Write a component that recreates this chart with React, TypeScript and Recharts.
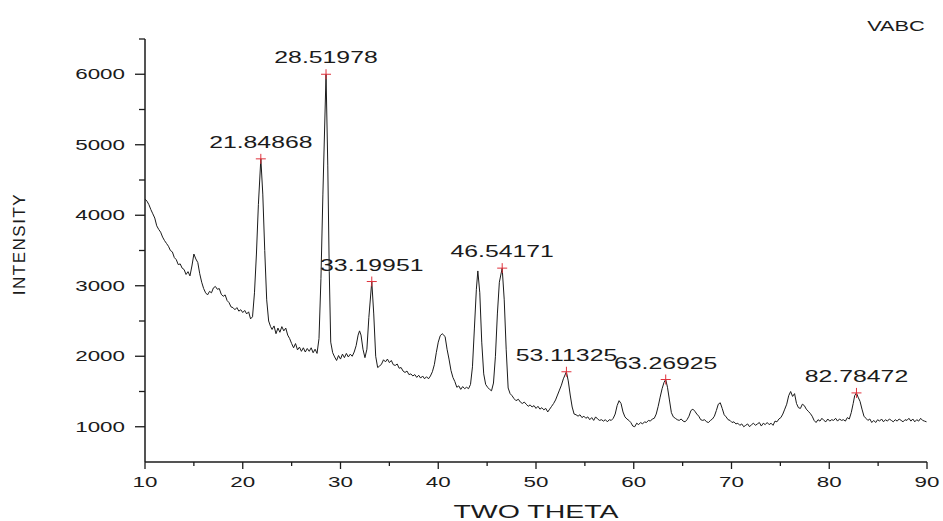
import { ComposedChart, Line, Scatter, XAxis, YAxis } from "recharts";

const FONT = "'Liberation Sans', Arial, sans-serif";
const INK = "#1b1b1b";

// [two theta, intensity], split by region
const scanLow: [number, number][] = [
  [10.0, 4230], [10.2, 4200], [10.4, 4150], [10.6, 4080], [10.8, 4020], [11.0, 3960], [11.2, 3850],
  [11.4, 3800], [11.6, 3760], [11.8, 3690], [12.0, 3640], [12.2, 3600], [12.4, 3560], [12.6, 3500],
  [12.8, 3480], [13.0, 3400], [13.2, 3370], [13.4, 3300], [13.6, 3310], [13.8, 3250], [14.0, 3230],
  [14.2, 3160], [14.4, 3200], [14.6, 3140], [14.8, 3280], [15.0, 3450], [15.2, 3380], [15.4, 3330],
  [15.6, 3170], [15.8, 3050], [16.0, 2960], [16.2, 2900], [16.4, 2870], [16.6, 2920], [16.8, 2900],
  [17.0, 2970], [17.2, 2990], [17.4, 2950], [17.6, 2960], [17.8, 2880], [18.0, 2850], [18.2, 2870],
  [18.4, 2790], [18.6, 2760], [18.8, 2700], [19.0, 2690], [19.2, 2660], [19.4, 2690], [19.6, 2640],
  [19.8, 2660], [20.0, 2620], [20.2, 2650], [20.4, 2600], [20.6, 2630], [20.8, 2530], [21.0, 2560],
];

const scanFirstPeak: [number, number][] = [
  [21.2, 2900], [21.4, 3450], [21.6, 4150], [21.85, 4800], [22.05, 4300], [22.25, 3500], [22.45, 2800],
  [22.65, 2500], [22.85, 2420], [23.0, 2380], [23.2, 2430], [23.4, 2320], [23.6, 2400], [23.8, 2340],
  [24.0, 2420], [24.2, 2360], [24.4, 2400], [24.6, 2300], [24.8, 2250], [25.0, 2180], [25.2, 2120],
  [25.4, 2180], [25.6, 2090], [25.8, 2130], [26.0, 2070], [26.2, 2120], [26.4, 2060], [26.6, 2110],
  [26.8, 2070], [27.0, 2120], [27.2, 2050], [27.4, 2100], [27.6, 2040],
];

const scanMainPeak: [number, number][] = [
  [27.8, 2250], [28.0, 3100], [28.2, 4300], [28.52, 6000], [28.7, 4700], [28.85, 3200], [29.0, 2200],
  [29.2, 2050], [29.4, 1990], [29.6, 1940], [29.8, 2010], [30.0, 1960], [30.2, 2030], [30.4, 1980],
  [30.6, 2040], [30.8, 1990], [31.0, 2030], [31.2, 2000], [31.4, 2060], [31.6, 2150], [31.8, 2300],
  [31.95, 2360], [32.1, 2300], [32.3, 2100], [32.5, 1980], [32.7, 2100], [32.9, 2550], [33.2, 3060],
  [33.4, 2600], [33.6, 2000], [33.8, 1840], [34.0, 1860],
];

const scanMiddle: [number, number][] = [
  [34.2, 1890], [34.4, 1950], [34.6, 1920], [34.8, 1960], [35.0, 1910], [35.2, 1940], [35.4, 1880],
  [35.6, 1870], [35.8, 1890], [36.0, 1830], [36.2, 1840], [36.4, 1790], [36.6, 1770], [36.8, 1790],
  [37.0, 1740], [37.2, 1750], [37.4, 1720], [37.6, 1740], [37.8, 1700], [38.0, 1730], [38.2, 1690],
  [38.4, 1720], [38.6, 1680], [38.8, 1710], [39.0, 1680], [39.2, 1720], [39.4, 1780], [39.6, 1880],
  [39.8, 2050], [40.0, 2200], [40.2, 2290], [40.4, 2320], [40.7, 2280], [40.9, 2100], [41.1, 1960],
  [41.3, 1800], [41.5, 1700], [41.7, 1640], [41.9, 1560], [42.1, 1580], [42.3, 1530], [42.5, 1570],
  [42.7, 1540], [42.9, 1560], [43.1, 1540], [43.3, 1600], [43.5, 1850], [43.7, 2400], [43.9, 2950],
  [44.05, 3210], [44.25, 2900], [44.45, 2200], [44.65, 1750], [44.85, 1600], [45.05, 1560], [45.25, 1530],
  [45.45, 1510], [45.65, 1620], [45.85, 2000], [46.05, 2600], [46.25, 3050], [46.54, 3250], [46.75, 2800],
  [46.95, 2100], [47.15, 1550], [47.35, 1470], [47.55, 1440], [47.75, 1400], [47.95, 1370],
];

const scanUpper: [number, number][] = [
  [48.2, 1390], [48.4, 1350], [48.6, 1330], [48.8, 1350], [49.0, 1320], [49.2, 1290], [49.4, 1310],
  [49.6, 1280], [49.8, 1300], [50.0, 1260], [50.2, 1290], [50.4, 1250], [50.6, 1270], [50.8, 1240],
  [51.0, 1260], [51.2, 1210], [51.4, 1250], [51.6, 1290], [51.8, 1330], [52.0, 1380], [52.2, 1450],
  [52.4, 1520], [52.6, 1590], [52.8, 1680], [53.11, 1780], [53.3, 1650], [53.5, 1450], [53.7, 1280],
  [53.9, 1180], [54.1, 1170], [54.3, 1150], [54.5, 1170], [54.7, 1130], [54.9, 1150], [55.1, 1120],
  [55.3, 1140], [55.5, 1100], [55.7, 1130], [55.9, 1090], [56.1, 1140], [56.3, 1110], [56.5, 1090],
  [56.7, 1100], [56.9, 1080], [57.1, 1100], [57.3, 1070], [57.5, 1100], [57.7, 1090], [57.9, 1120],
  [58.1, 1180], [58.3, 1300], [58.5, 1370], [58.7, 1330], [58.9, 1210], [59.1, 1140], [59.3, 1110],
  [59.5, 1090], [59.7, 1060], [59.9, 1010], [60.1, 1000],
];

const scanSixties: [number, number][] = [
  [60.3, 1050], [60.5, 1030], [60.7, 1060], [60.9, 1040], [61.1, 1070], [61.3, 1060], [61.5, 1090],
  [61.7, 1080], [61.9, 1110], [62.1, 1120], [62.3, 1180], [62.5, 1290], [62.7, 1420], [62.9, 1540],
  [63.1, 1630], [63.27, 1670], [63.45, 1560], [63.65, 1380], [63.85, 1200], [64.05, 1140], [64.25, 1120],
  [64.45, 1100], [64.65, 1090], [64.85, 1110], [65.05, 1080], [65.25, 1070], [65.45, 1100], [65.65, 1150],
  [65.85, 1230], [66.05, 1250], [66.25, 1220], [66.45, 1180], [66.65, 1150], [66.85, 1100], [67.05, 1090],
  [67.25, 1100], [67.45, 1070], [67.65, 1060], [67.85, 1090], [68.05, 1110], [68.25, 1150], [68.45, 1230],
  [68.65, 1320], [68.85, 1340], [69.05, 1260], [69.25, 1170], [69.45, 1140], [69.65, 1100], [69.85, 1090],
];

const scanHigh: [number, number][] = [
  [70.05, 1060], [70.25, 1070], [70.45, 1040], [70.65, 1050], [70.85, 1020], [71.05, 1040], [71.25, 1000],
  [71.45, 1020], [71.65, 1040], [71.85, 1000], [72.05, 1030], [72.25, 1050], [72.45, 1020], [72.65, 1040],
  [72.85, 1060], [73.05, 1010], [73.25, 1050], [73.45, 1030], [73.65, 1060], [73.85, 1030], [74.05, 1050],
  [74.25, 1020], [74.45, 1080], [74.65, 1070], [74.85, 1110], [75.05, 1130], [75.25, 1180], [75.45, 1250],
  [75.65, 1320], [75.85, 1440], [76.05, 1500], [76.25, 1430], [76.45, 1470], [76.65, 1330], [76.85, 1270],
  [77.05, 1260], [77.25, 1320], [77.45, 1300], [77.65, 1250], [77.85, 1220], [78.05, 1190], [78.25, 1150],
  [78.45, 1090], [78.65, 1060], [78.85, 1100], [79.05, 1080], [79.25, 1120], [79.45, 1090], [79.65, 1070],
  [79.85, 1110], [80.05, 1080], [80.25, 1100], [80.45, 1090], [80.65, 1120], [80.85, 1080], [81.05, 1110],
  [81.25, 1090], [81.45, 1100], [81.65, 1080], [81.85, 1130], [82.05, 1110], [82.25, 1200], [82.45, 1330],
  [82.6, 1440], [82.78, 1480], [82.95, 1420], [83.15, 1360], [83.35, 1250], [83.55, 1150], [83.75, 1120],
  [83.95, 1090], [84.15, 1110], [84.35, 1060], [84.55, 1090], [84.75, 1060], [84.95, 1100], [85.15, 1080],
  [85.35, 1110], [85.55, 1070], [85.75, 1100], [85.95, 1080], [86.15, 1110], [86.35, 1090], [86.55, 1070],
  [86.75, 1100], [86.95, 1080], [87.15, 1110], [87.35, 1090], [87.55, 1070], [87.75, 1100], [87.95, 1090],
  [88.15, 1120], [88.35, 1080], [88.55, 1110], [88.75, 1070], [88.95, 1100], [89.15, 1080], [89.35, 1120],
  [89.55, 1090], [89.75, 1080], [89.95, 1070],
];

// labelled peaks
const peakTheta = [21.84868, 28.51978, 33.19951, 46.54171, 53.11325, 63.26925, 82.78472];
const peakIntensity = [4800, 6000, 3060, 3250, 1780, 1670, 1480];

const xTicks = [10, 15, 20, 25, 30, 35, 40, 45, 50, 55, 60, 65, 70, 75, 80, 85, 90];
const yTicks = [1000, 1500, 2000, 2500, 3000, 3500, 4000, 4500, 5000, 5500, 6000, 6500];

const trace = [
  ...scanLow,
  ...scanFirstPeak,
  ...scanMainPeak,
  ...scanMiddle,
  ...scanUpper,
  ...scanSixties,
  ...scanHigh,
].map(([x, y]) => ({ x, y }));

const peaks = peakTheta.map((x, i) => ({
  x,
  y: peakIntensity[i],
  label: x.toFixed(5),
}));

function YTick({ x, y, payload }: any) {
  const v = payload.value;
  const major = v % 1000 === 0 && v <= 6000;
  return (
    <g>
      <line x1={x - (major ? 10 : 6)} x2={x} y1={y} y2={y} stroke={INK} strokeWidth={1.3} />
      {major && (
        <text
          transform={`translate(${x - 20},${y}) scale(1.6,1)`}
          textAnchor="end"
          dy="0.36em"
          fontSize={14}
          fontFamily={FONT}
          fill={INK}
        >
          {v}
        </text>
      )}
    </g>
  );
}

function XTick({ x, y, payload }: any) {
  const v = payload.value;
  const major = v % 10 === 0;
  return (
    <g>
      <line x1={x} x2={x} y1={y} y2={y + (major ? 7 : 4)} stroke={INK} strokeWidth={1.3} />
      {major && (
        <text
          transform={`translate(${x},${y + 25}) scale(1.6,1)`}
          textAnchor="middle"
          fontSize={14}
          fontFamily={FONT}
          fill={INK}
        >
          {v}
        </text>
      )}
    </g>
  );
}

function PeakMark({ cx, cy, payload }: any) {
  return (
    <g>
      <line x1={cx - 5} x2={cx + 5} y1={cy} y2={cy} stroke="#e0323c" strokeWidth={1} />
      <line x1={cx} x2={cx} y1={cy - 5} y2={cy + 5} stroke="#e0323c" strokeWidth={1} />
      <text
        transform={`translate(${cx},${cy - 11}) scale(1.55,1)`}
        textAnchor="middle"
        fontSize={16}
        fontFamily={FONT}
        fill={INK}
      >
        {payload.label}
      </text>
    </g>
  );
}

export default function App() {
  return (
    <div style={{ position: "absolute", left: 0, top: 0, width: 943, height: 521, background: "#fff" }}>
      <ComposedChart
        width={943}
        height={521}
        margin={{ top: 39, right: 16, bottom: 0, left: 0 }}
      >
        <XAxis
          dataKey="x"
          type="number"
          domain={[10, 90]}
          ticks={xTicks}
          interval={0}
          height={59}
          tickSize={0}
          tickMargin={0}
          tickLine={false}
          axisLine={{ stroke: INK, strokeWidth: 1.5 }}
          tick={<XTick />}
          allowDataOverflow
        />
        <YAxis
          type="number"
          domain={[500, 6500]}
          ticks={yTicks}
          interval={0}
          width={145}
          tickSize={0}
          tickMargin={0}
          tickLine={false}
          axisLine={{ stroke: INK, strokeWidth: 1.5 }}
          tick={<YTick />}
          allowDataOverflow
        />
        <Line
          data={trace}
          dataKey="y"
          type="linear"
          stroke={INK}
          strokeWidth={1}
          dot={false}
          activeDot={false}
          isAnimationActive={false}
        />
        <Scatter data={peaks} dataKey="y" shape={<PeakMark />} isAnimationActive={false} />
      </ComposedChart>
      <svg
        width={943}
        height={521}
        style={{ position: "absolute", left: 0, top: 0, pointerEvents: "none" }}
      >
        <text
          transform="translate(536,518) scale(1.5,1)"
          textAnchor="middle"
          fontSize={19}
          fontFamily={FONT}
          fill={INK}
        >
          TWO THETA
        </text>
        <text
          transform="translate(25,244) rotate(-90)"
          textAnchor="middle"
          fontSize={17}
          letterSpacing={1.5}
          fontFamily={FONT}
          fill={INK}
        >
          INTENSITY
        </text>
        <text
          transform="translate(896,31) scale(1.45,1)"
          textAnchor="middle"
          fontSize={15}
          fontFamily={FONT}
          fill={INK}
        >
          VABC
        </text>
      </svg>
    </div>
  );
}
